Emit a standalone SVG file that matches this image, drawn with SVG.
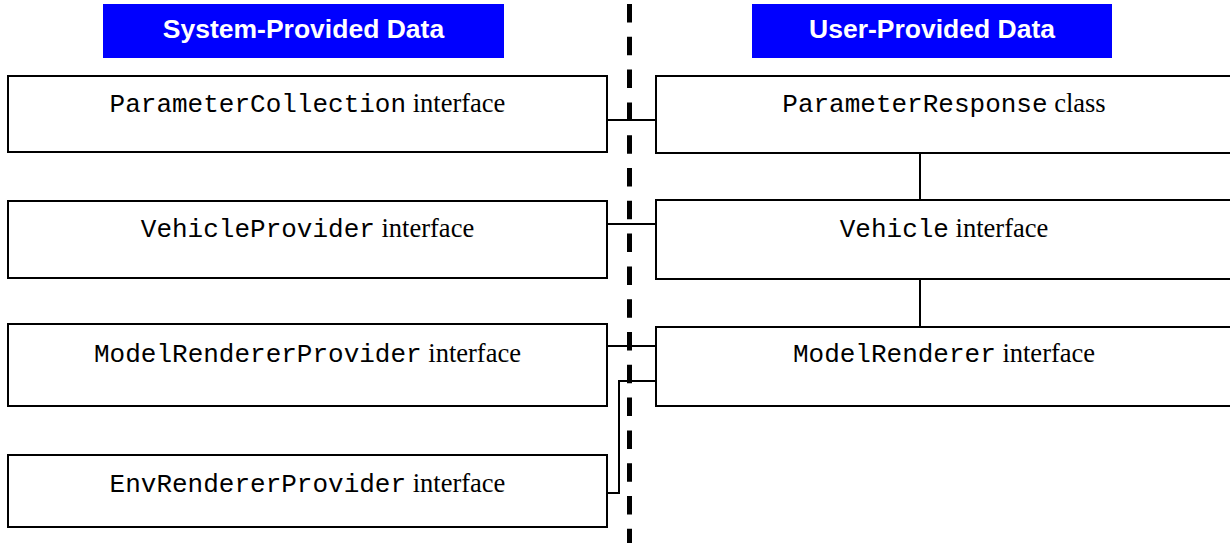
<svg xmlns="http://www.w3.org/2000/svg" width="1230" height="543" viewBox="0 0 1230 543">
  <style>
    .box { fill: #ffffff; stroke: #000000; stroke-width: 2; }
    .hdr { fill: #0000ff; }
    .hdr-text { font-family: "Liberation Sans", Arial, sans-serif; font-weight: bold; font-size: 26.5px; fill: #ffffff; text-anchor: middle; }
    .label { font-family: "Liberation Serif", "Times New Roman", serif; font-size: 26.5px; fill: #000000; text-anchor: middle; }
    .code { font-family: "Liberation Mono", "Courier New", monospace; font-size: 26px; }
    .wire { fill: none; stroke: #000000; stroke-width: 2; }
    .divider { fill: none; stroke: #000000; stroke-width: 5; stroke-dasharray: 18.5 14.3; }
  </style>

  <!-- column headers -->
  <g id="header-system">
    <rect class="hdr" x="103" y="4" width="401" height="54"/>
    <text class="hdr-text" x="303.5" y="38">System-Provided Data</text>
  </g>
  <g id="header-user">
    <rect class="hdr" x="752" y="4" width="360" height="54"/>
    <text class="hdr-text" x="932" y="38">User-Provided Data</text>
  </g>

  <!-- boundary between system and user data -->
  <line class="divider" x1="629.5" y1="4" x2="629.5" y2="543"/>

  <!-- connectors -->
  <g id="connectors">
    <line class="wire" x1="607" y1="120" x2="656" y2="120"/>
    <line class="wire" x1="607" y1="224" x2="656" y2="224"/>
    <line class="wire" x1="607" y1="346" x2="656" y2="346"/>
    <polyline class="wire" points="607,493 619,493 619,381 656,381"/>
    <line class="wire" x1="920" y1="153" x2="920" y2="200"/>
    <line class="wire" x1="920" y1="279" x2="920" y2="327"/>
  </g>

  <!-- system-provided nodes -->
  <g id="parameter-collection">
    <rect class="box" x="8" y="76" width="599" height="76"/>
    <text class="label" x="307.5" y="112"><tspan class="code">ParameterCollection</tspan> interface</text>
  </g>
  <g id="vehicle-provider">
    <rect class="box" x="8" y="201" width="599" height="77"/>
    <text class="label" x="307.5" y="237"><tspan class="code">VehicleProvider</tspan> interface</text>
  </g>
  <g id="model-renderer-provider">
    <rect class="box" x="8" y="324" width="599" height="82"/>
    <text class="label" x="307.5" y="362"><tspan class="code">ModelRendererProvider</tspan> interface</text>
  </g>
  <g id="env-renderer-provider">
    <rect class="box" x="8" y="455" width="599" height="72"/>
    <text class="label" x="307.5" y="492"><tspan class="code">EnvRendererProvider</tspan> interface</text>
  </g>

  <!-- user-provided nodes -->
  <g id="parameter-response">
    <rect class="box" x="656" y="76" width="580" height="77"/>
    <text class="label" x="944" y="112"><tspan class="code">ParameterResponse</tspan> class</text>
  </g>
  <g id="vehicle">
    <rect class="box" x="656" y="200" width="580" height="79"/>
    <text class="label" x="944" y="237"><tspan class="code">Vehicle</tspan> interface</text>
  </g>
  <g id="model-renderer">
    <rect class="box" x="656" y="327" width="580" height="79"/>
    <text class="label" x="944" y="362"><tspan class="code">ModelRenderer</tspan> interface</text>
  </g>
</svg>
